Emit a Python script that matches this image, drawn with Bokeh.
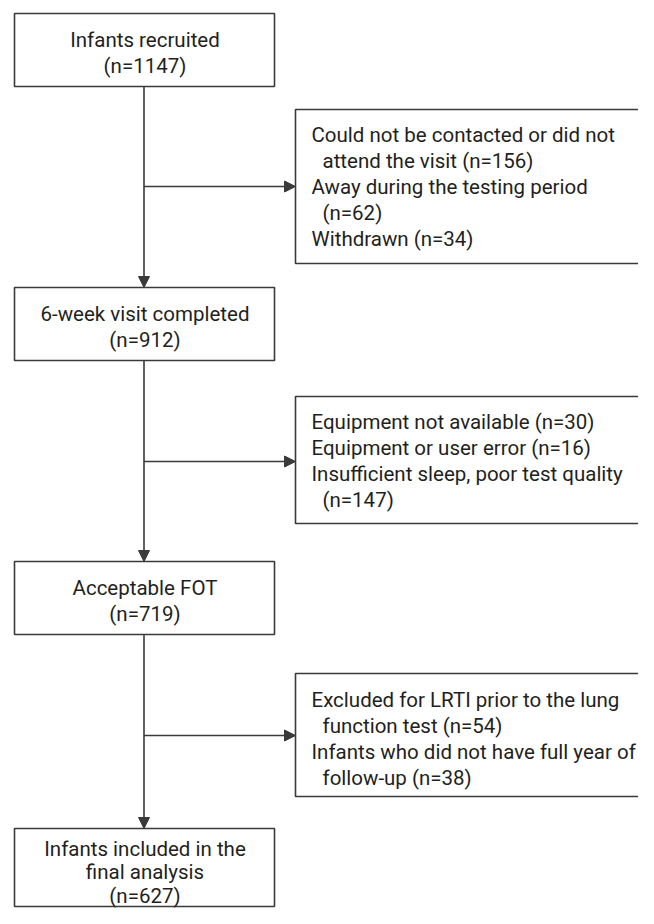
from bokeh.plotting import figure
from bokeh.models import Range1d, Arrow, NormalHead
from bokeh.core.properties import value
from bokeh.embed import file_html
from bokeh.resources import INLINE

# ---- data ----
stage_labels = ["Infants recruited", "6-week visit completed", "Acceptable FOT",
                "Infants included in the\nfinal analysis"]
stage_n = [1147, 912, 719, 627]

excl_reasons = [
    ["Could not be contacted or did not\nattend the visit", "Away during the testing period\n", "Withdrawn"],
    ["Equipment not available", "Equipment or user error", "Insufficient sleep, poor test quality\n"],
    ["Excluded for LRTI prior to the lung\nfunction test", "Infants who did not have full year of\nfollow-up"],
]
excl_n = [[156, 62, 34], [30, 16, 147], [54, 38]]

# ---- layout (screen pixels) ----
FONT = "Roboto"
FS = "20.5px"
INK = "#231f20"
LINE = "#3a3a3a"
LH = 26.2

main_left, main_right, main_cx = 14, 274, 143.5
main_tops = [13, 287, 561, 828]
main_bottoms = [86, 360, 634, 906]
main_first_line = [39.5, 313.5, 587.5, 848]
main_lh = [LH, LH, LH, 23.5]

side_left, side_right = 295, 700
side_tops = [109, 396, 673]
side_bottoms = [263, 523, 796]
side_arrow_y = [186, 461, 735]
side_first_line = [134, 421, 699]
text_x, indent_x = 311, 322

W, H = 638, 908
p = figure(width=W, height=H, x_range=Range1d(0, W), y_range=Range1d(H, 0),
           output_backend="svg", toolbar_location=None, min_border=0)
p.axis.visible = False
p.grid.visible = False
p.outline_line_color = None
p.background_fill_color = "white"
p.border_fill_color = "white"

# connectors
for i in range(3):
    p.add_layout(Arrow(end=NormalHead(size=11, fill_color=LINE, line_color=LINE, line_width=1),
                       x_start=main_cx, y_start=main_bottoms[i], x_end=main_cx, y_end=main_tops[i + 1],
                       line_color=LINE, line_width=1.6))
    p.add_layout(Arrow(end=NormalHead(size=11, fill_color=LINE, line_color=LINE, line_width=1),
                       x_start=main_cx, y_start=side_arrow_y[i], x_end=side_left, y_end=side_arrow_y[i],
                       line_color=LINE, line_width=1.6))

# boxes
p.quad(left=[main_left] * 4, right=[main_right] * 4, top=main_tops, bottom=main_bottoms,
       fill_color="white", line_color=LINE, line_width=1.6)
p.quad(left=[side_left] * 3, right=[side_right] * 3, top=side_tops, bottom=side_bottoms,
       fill_color="white", line_color=LINE, line_width=1.6)

# main texts
mx, my, mt = [], [], []
for i, (lab, n) in enumerate(zip(stage_labels, stage_n)):
    lines = lab.split("\n") + [f"(n={n})"]
    for k, ln in enumerate(lines):
        mx.append(main_cx + 1)
        my.append(main_first_line[i] + k * main_lh[i])
        mt.append(ln)
p.text(x=mx, y=my, text=mt, text_align="center", text_baseline="middle",
       text_font=value(FONT), text_font_size=FS, text_color=INK)

# side texts
sx, sy, st = [], [], []
for b, (reasons, ns) in enumerate(zip(excl_reasons, excl_n)):
    k = 0
    for r, n in zip(reasons, ns):
        full = f"{r} (n={n})".replace("\n ", "\n")
        for j, ln in enumerate(full.split("\n")):
            sx.append(text_x if j == 0 else indent_x)
            sy.append(side_first_line[b] + k * LH)
            st.append(ln)
            k += 1
p.text(x=sx, y=sy, text=st, text_align="left", text_baseline="middle",
       text_font=value(FONT), text_font_size=FS, text_color=INK)

open("out.html", "w").write(file_html(p, INLINE))
